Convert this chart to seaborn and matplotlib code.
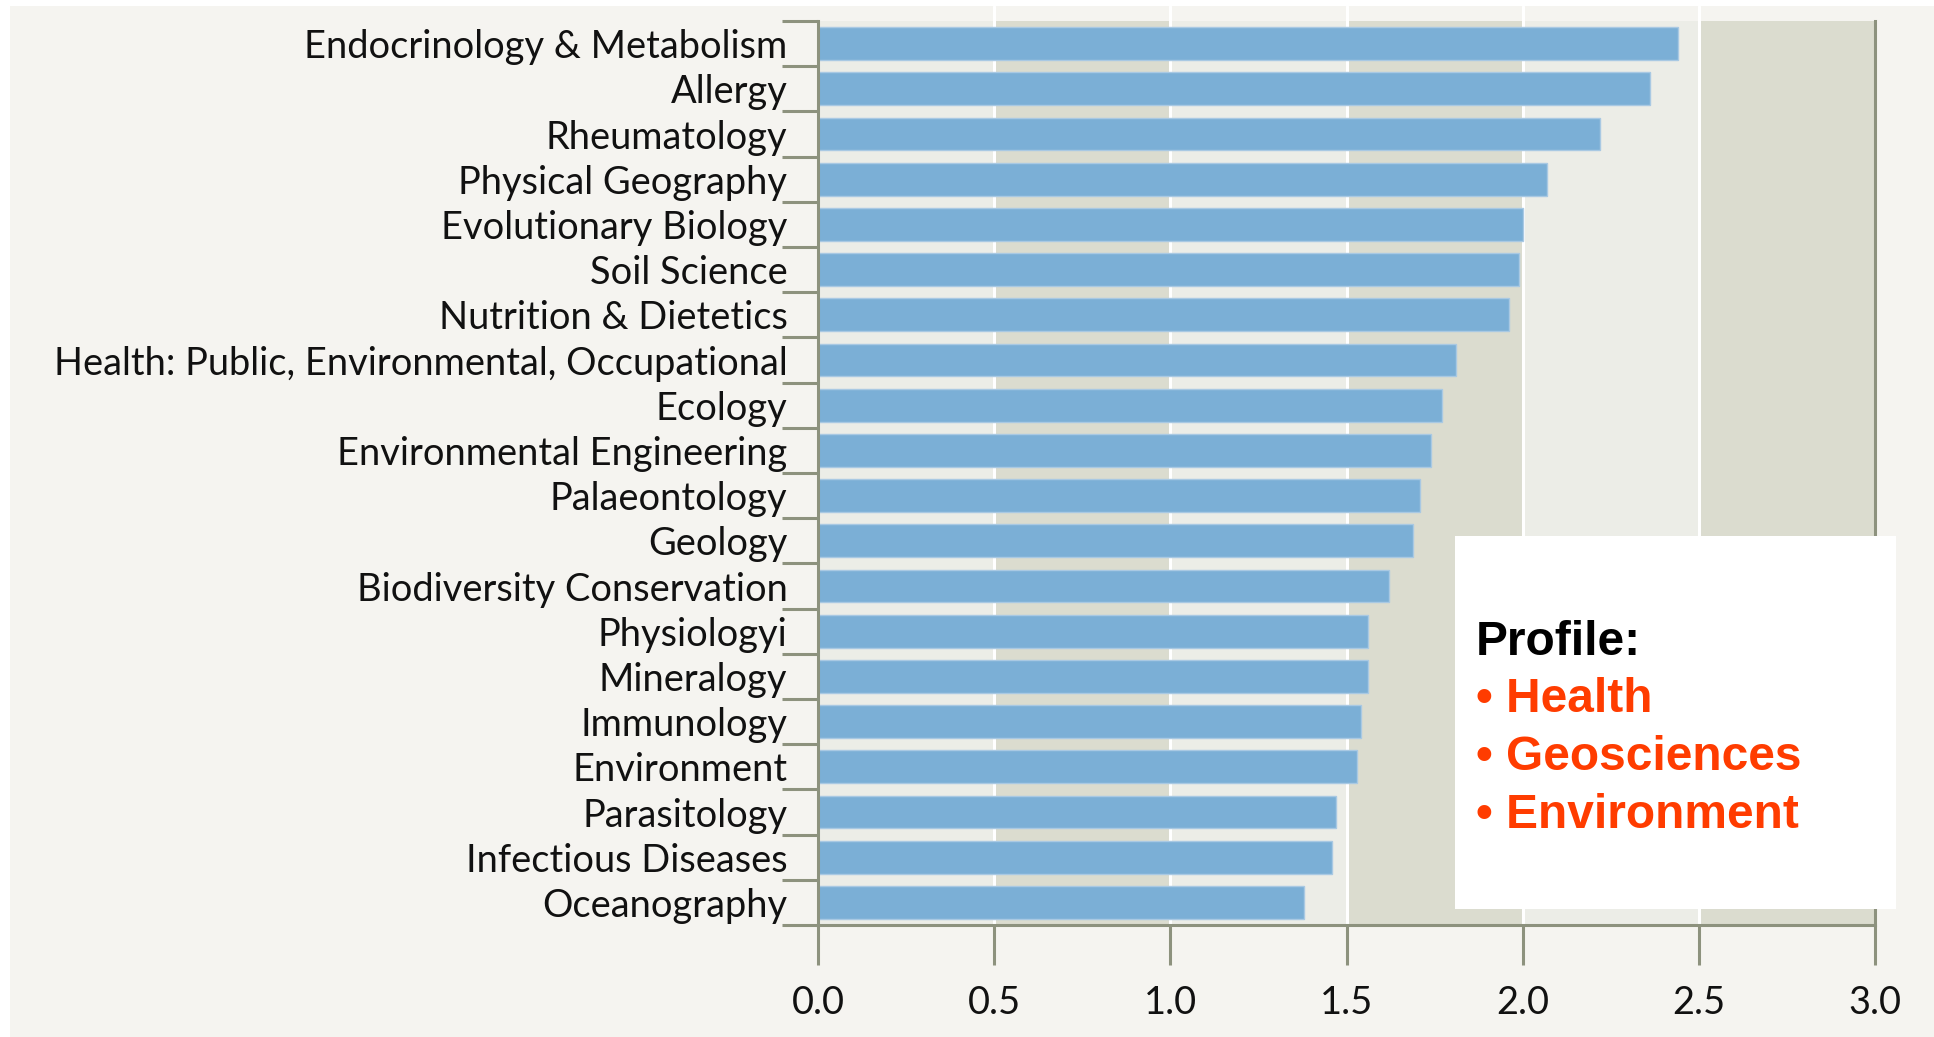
import matplotlib
matplotlib.use("Agg")
import matplotlib.pyplot as plt
import seaborn as sns
import pandas as pd
from matplotlib.patches import Rectangle

fields = [
    "Endocrinology & Metabolism", "Allergy", "Rheumatology", "Physical Geography",
    "Evolutionary Biology", "Soil Science", "Nutrition & Dietetics",
    "Health: Public, Environmental, Occupational", "Ecology",
    "Environmental Engineering", "Palaeontology", "Geology",
    "Biodiversity Conservation", "Physiologyi", "Mineralogy", "Immunology",
    "Environment", "Parasitology", "Infectious Diseases", "Oceanography",
]
values = [2.44, 2.36, 2.22, 2.07, 2.00, 1.99, 1.96, 1.81, 1.77, 1.74,
          1.71, 1.69, 1.62, 1.56, 1.56, 1.54, 1.53, 1.47, 1.46, 1.38]
xticks = [0.0, 0.5, 1.0, 1.5, 2.0, 2.5, 3.0]
legend_title = "Profile:"
legend_items = ["Health", "Geosciences", "Environment"]

df = pd.DataFrame({"field": fields, "value": values})

sns.set_theme(style="white")
plt.rcParams["font.family"] = ["Lato", "DejaVu Sans"]

W, H = 1934, 1037
spine_c = "#8d927e"
fig = plt.figure(figsize=(W / 100, H / 100), dpi=100, facecolor="white")
fig.patches.append(Rectangle((10 / W, 0), 1 - 10 / W, (H - 6) / H, transform=fig.transFigure,
                             facecolor="#f5f4f0", edgecolor="none", zorder=-10))

left, right, top, bottom = 818, 1875, 21, 925
ax = fig.add_axes([left / W, (H - bottom) / H, (right - left) / W, (bottom - top) / H])
ax.set_facecolor("#ecede7")

sns.barplot(data=df, x="value", y="field", color="#7bafd6", width=0.73, ax=ax,
            edgecolor="#a9c9e3", linewidth=1, saturation=1, orient="h", zorder=2)

n = len(fields)
ax.set_xlim(0, 3)
ax.set_ylim(n - 0.5, -0.5)
for x0 in (0.5, 1.5, 2.5):
    ax.axvspan(x0, x0 + 0.5, color="#dbdccf", zorder=0, lw=0)
for g in (0.5, 1.0, 1.5, 2.0, 2.5):
    ax.axvline(g, ymin=0, ymax=1 + 15 / (bottom - top), color="white", lw=2.2, zorder=0.5, clip_on=False)

ax.spines["top"].set_visible(False)
for s in ("left", "right", "bottom"):
    ax.spines[s].set_visible(True)
    ax.spines[s].set_color(spine_c)
    ax.spines[s].set_linewidth(2.2)
    ax.spines[s].set_zorder(3)

ax.set_xticks(xticks)
ax.set_xticklabels([f"{t:.1f}" for t in xticks])
ax.tick_params(axis="x", which="major", bottom=True, length=29, width=2.2, color=spine_c,
               pad=14, labelsize=27.4, labelcolor="#111111", direction="out")
ax.set_yticks(range(n))
ax.set_yticklabels(fields)
ax.tick_params(axis="y", which="major", left=True, length=0, pad=22, labelsize=27.4, labelcolor="#111111")
ax.set_yticks([i - 0.5 for i in range(n + 1)], minor=True)
ax.tick_params(axis="y", which="minor", left=True, length=26, width=2.2, color=spine_c)
ax.set_xlabel("")
ax.set_ylabel("")

# legend box
bx0, by0, bx1, by1 = 1455, 536, 1896, 909
fig.patches.append(Rectangle((bx0 / W, (H - by1) / H), (bx1 - bx0) / W, (by1 - by0) / H,
                             transform=fig.transFigure, facecolor="white", edgecolor="none", zorder=5))
tx = 1476 / W
fig.text(tx, (H - 655) / H, legend_title, fontsize=34.5, fontweight="bold", color="black",
         family=["Liberation Sans", "DejaVu Sans"], va="baseline", ha="left", zorder=6)
for i, item in enumerate(legend_items):
    fig.text(tx, (H - (712 + 58 * i)) / H, "\u2022 " + item, fontsize=34.5, fontweight="bold",
             color="#ff3c00", family=["Liberation Sans", "DejaVu Sans"], va="baseline", ha="left", zorder=6)

fig.savefig("out.png", dpi=100, facecolor=fig.get_facecolor())
